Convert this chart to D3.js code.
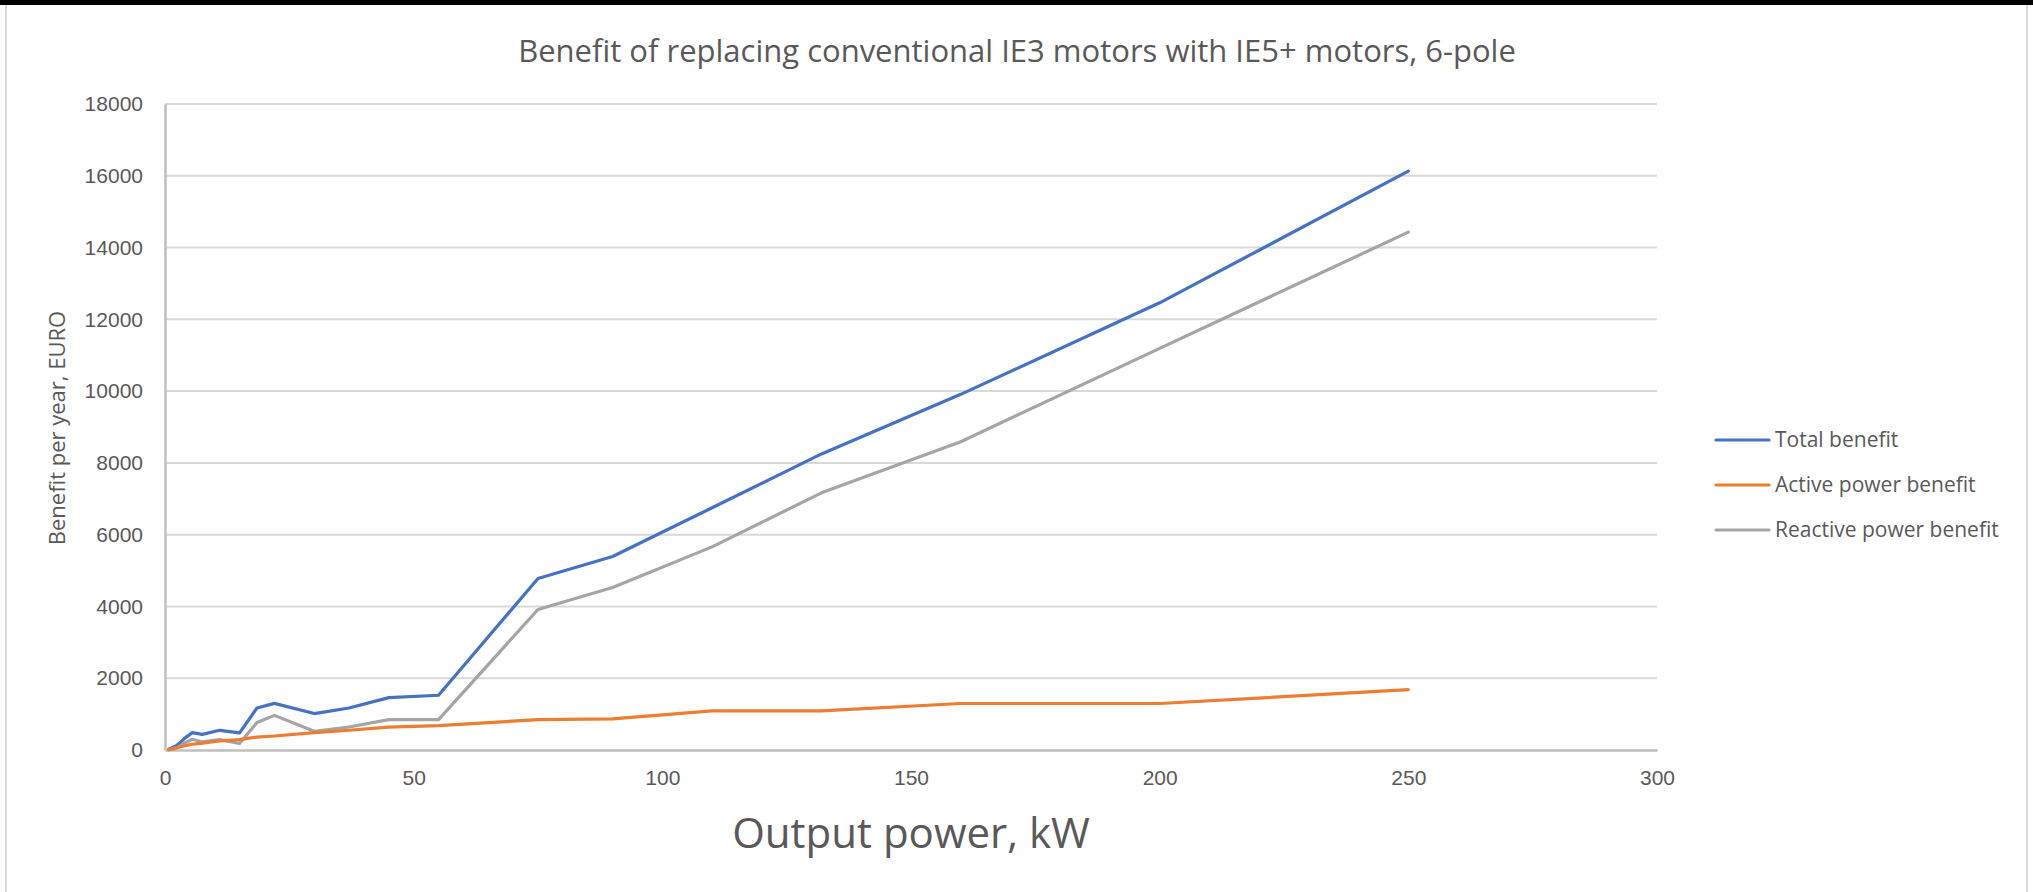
<!DOCTYPE html>
<html>
<head>
<meta charset="utf-8">
<script src="https://cdn.jsdelivr.net/npm/d3@7/dist/d3.min.js"></script>
<style>
  html, body { margin: 0; padding: 0; background: #fff; }
  svg { display: block; font-family: "Open Sans", "Noto Sans", sans-serif; }
</style>
</head>
<body>
<div class="chart"></div>
<script>
'use strict';

// output power of the motors, kW
var power = [0.75, 1.1, 1.5, 2.2, 3, 4, 5.5, 7.5, 11, 15, 18.5, 22, 30, 37, 45, 55,
             75, 90, 110, 132, 160, 200, 250];

// benefit per year, EURO
var totalBenefit = [20, 40, 70, 110, 200, 330, 485, 437, 549, 475, 1170, 1300, 1015, 1170, 1460, 1525,
                    4780, 5390, 6750, 8250, 9910, 12460, 16130];
var activeBenefit = [15, 25, 40, 60, 85, 120, 160, 190, 250, 290, 360, 390, 485, 550, 640, 680,
                     845, 865, 1090, 1090, 1295, 1295, 1680];
var reactiveBenefit = [5, 15, 30, 50, 110, 200, 300, 225, 290, 180, 765, 965, 520, 640, 845, 845,
                       3915, 4530, 5660, 7165, 8590, 11190, 14430];

var seriesNames = ["Total benefit", "Active power benefit", "Reactive power benefit"];
var seriesColors = ["#4472C4", "#ED7D31", "#A5A5A5"];

var xTicks = [0, 50, 100, 150, 200, 250, 300];
var yTicks = [0, 2000, 4000, 6000, 8000, 10000, 12000, 14000, 16000, 18000];

var chartTitle = "Benefit of replacing conventional IE3 motors with IE5+ motors, 6-pole";
var xTitle = "Output power, kW";
var yTitle = "Benefit per year, EURO";

var width = 2033,
    height = 892;
var plot = {left: 165, right: 1657, top: 104, bottom: 750};

var svg = d3.select(".chart").append("svg")
        .attr("width", width)
        .attr("height", height);

// frame of the chart area
svg.append("rect")
        .attr("x", 6).attr("y", 4)
        .attr("width", 2021).attr("height", height + 10)
        .attr("fill", "#fff")
        .attr("stroke", "#d9d9d9")
        .attr("stroke-width", 2);
svg.append("rect")
        .attr("x", 0).attr("y", 0)
        .attr("width", width).attr("height", 5)
        .attr("fill", "#000");

var x = d3.scaleLinear()
        .domain([0, 300])
        .range([plot.left, plot.right]);
var y = d3.scaleLinear()
        .domain([0, 18000])
        .range([plot.bottom, plot.top]);

// gridlines
svg.append("g")
        .attr("class", "grid")
        .selectAll("line")
        .data(yTicks.filter(function (d) { return d > 0; }))
        .enter().append("line")
        .attr("x1", plot.left)
        .attr("x2", plot.right)
        .attr("y1", function (d) { return y(d); })
        .attr("y2", function (d) { return y(d); })
        .attr("stroke", "#d9d9d9")
        .attr("stroke-width", 2);

var yAxis = svg.append("g")
        .attr("transform", "translate(" + plot.left + ",0)")
        .call(d3.axisLeft(y).tickValues(yTicks).tickSize(0).tickPadding(22)
                .tickFormat(d3.format("d")));
var xAxis = svg.append("g")
        .attr("transform", "translate(0," + plot.bottom + ")")
        .call(d3.axisBottom(x).tickValues(xTicks).tickSize(0).tickPadding(20)
                .tickFormat(d3.format("d")));

[xAxis, yAxis].forEach(function (g) {
    g.select(".domain")
            .attr("stroke", "#bfbfbf")
            .attr("stroke-width", 2.5);
    g.selectAll("text")
            .attr("fill", "#595959")
            .style("font-size", "21px");
});
xAxis.selectAll("text").attr("dy", "0.71em");

// one line per series
var rows = [totalBenefit, activeBenefit, reactiveBenefit];
var line = d3.line()
        .x(function (d, i) { return x(power[i]); })
        .y(function (d) { return y(d); });

svg.append("g")
        .attr("class", "series")
        .selectAll("path")
        .data([rows[0], rows[2], rows[1]])
        .enter().append("path")
        .attr("d", line)
        .attr("fill", "none")
        .attr("stroke", function (d) { return seriesColors[rows.indexOf(d)]; })
        .attr("stroke-width", 3.2)
        .attr("stroke-linejoin", "round")
        .attr("stroke-linecap", "round");

// titles
svg.append("text")
        .attr("x", 1017)
        .attr("y", 62)
        .attr("text-anchor", "middle")
        .attr("fill", "#595959")
        .style("font-size", "31px")
        .text(chartTitle);

svg.append("text")
        .attr("x", 911)
        .attr("y", 848)
        .attr("text-anchor", "middle")
        .attr("fill", "#595959")
        .style("font-size", "42px")
        .text(xTitle);

svg.append("text")
        .attr("transform", "translate(65,428)rotate(-90)")
        .attr("text-anchor", "middle")
        .attr("fill", "#595959")
        .style("font-size", "22px")
        .text(yTitle);

// legend
var legend = svg.append("g")
        .attr("class", "legend")
        .selectAll("g")
        .data(seriesNames)
        .enter().append("g")
        .attr("transform", function (d, i) {
            return "translate(1716," + (440 + i * 45) + ")";
        });
legend.append("line")
        .attr("x1", 0).attr("x2", 53)
        .attr("stroke", function (d, i) { return seriesColors[i]; })
        .attr("stroke-width", 3.2)
        .attr("stroke-linecap", "round");
legend.append("text")
        .attr("x", 59)
        .attr("dy", "0.35em")
        .attr("fill", "#595959")
        .style("font-size", "21px")
        .text(function (d) { return d; });
</script>
</body>
</html>
